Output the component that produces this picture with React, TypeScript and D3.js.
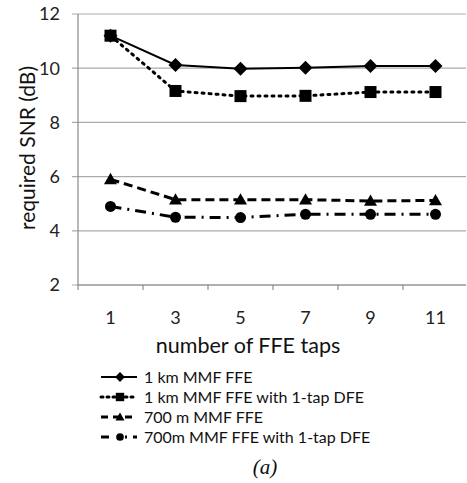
import React from "react";
import * as d3 from "d3";

const taps = ["1", "3", "5", "7", "9", "11"];
const yTicks = [2, 4, 6, 8, 10, 12];
const ffe1km = [11.2, 10.12, 9.98, 10.02, 10.08, 10.08];
const dfe1km = [11.2, 9.16, 8.97, 8.98, 9.12, 9.12];
const ffe700 = [5.9, 5.15, 5.15, 5.15, 5.1, 5.12];
const dfe700 = [4.9, 4.5, 4.49, 4.61, 4.61, 4.61];
const seriesNames = [
  "1 km MMF FFE",
  "1 km MMF FFE with 1-tap DFE",
  "700 m MMF FFE",
  "700m MMF FFE with 1-tap DFE",
];

const W = 467, H = 483;
const left = 78, right = 468, top = 14, bottom = 285;
const font = "Lato, 'Open Sans', sans-serif";

const styles = [
  { dash: "none", width: 2, marker: "diamond", legDash: "none" },
  { dash: "2 5", width: 3, marker: "square", legDash: "2 4" },
  { dash: "9 5", width: 3, marker: "triangle", legDash: "7 5" },
  { dash: "11 6 2 6", width: 3, marker: "circle", legDash: "8 16 2 6" },
];

function Marker({ type, x, y, s = 1 }: { type: string; x: number; y: number; s?: number }) {
  if (type === "diamond") {
    const r = 7 * s;
    return <path d={`M${x},${y - r}L${x + r},${y}L${x},${y + r}L${x - r},${y}Z`} fill="#000" />;
  }
  if (type === "square") {
    const h = 6 * s;
    return <rect x={x - h} y={y - h} width={2 * h} height={2 * h} fill="#000" />;
  }
  if (type === "triangle") {
    const h = 6.5 * s;
    return <path d={`M${x},${y - h}L${x + h},${y + h * 0.75}L${x - h},${y + h * 0.75}Z`} fill="#000" />;
  }
  return <circle cx={x} cy={y} r={5.5 * s} fill="#000" />;
}

export default function App() {
  const x = d3.scaleBand<string>().domain(taps).range([left, right]);
  const y = d3.scaleLinear().domain([2, 12]).range([bottom, top]);
  const cx = (t: string) => (x(t) as number) + x.bandwidth() / 2;
  const all = [ffe1km, dfe1km, ffe700, dfe700];
  const line = d3
    .line<number>()
    .x((_, i) => cx(taps[i]))
    .y((d) => y(d));
  const boundaries = taps.map((t) => x(t) as number).slice(1);

  return (
    <svg width={W} height={H} style={{ position: "absolute", left: 0, top: 0, background: "#fff" }}>
      {yTicks.map((t) => (
        <g key={t}>
          <line x1={72} x2={466} y1={y(t)} y2={y(t)} stroke="#ababab" strokeWidth={1.2} />
          <text x={60} y={y(t)} dy="0.36em" textAnchor="end" fontFamily={font} fontSize={18} fill="#222">
            {t}
          </text>
        </g>
      ))}
      <line x1={left} x2={left} y1={top} y2={bottom} stroke="#8a8a8a" strokeWidth={1.2} />
      <line x1={left} x2={466} y1={bottom} y2={bottom} stroke="#8a8a8a" strokeWidth={1.2} />
      {boundaries.map((b, i) => (
        <line key={i} x1={b} x2={b} y1={bottom} y2={bottom + 5} stroke="#8a8a8a" strokeWidth={1.2} />
      ))}
      <line x1={left} x2={left} y1={bottom} y2={bottom + 5} stroke="#8a8a8a" strokeWidth={1.2} />
      {taps.map((t) => (
        <text key={t} x={cx(t)} y={318} textAnchor="middle" dy="0.36em" fontFamily={font} fontSize={18} fill="#222">
          {t}
        </text>
      ))}
      <text x={248} y={345} textAnchor="middle" dy="0.36em" fontFamily={font} fontSize={21.5} fill="#111">
        number of FFE taps
      </text>
      <text
        transform={`translate(27,148) rotate(-90)`}
        textAnchor="middle"
        dy="0.36em"
        fontFamily={font}
        fontSize={21}
        fill="#111"
      >
        required SNR (dB)
      </text>
      {all.map((s, k) => (
        <g key={k}>
          <path
            d={line(s) as string}
            fill="none"
            stroke="#000"
            strokeWidth={styles[k].width}
            strokeDasharray={styles[k].dash}
            strokeLinecap={k === 1 ? "round" : "butt"}
          />
          {s.map((v, i) => (
            <Marker key={i} type={styles[k].marker} x={cx(taps[i])} y={y(v)} />
          ))}
        </g>
      ))}
      {seriesNames.map((n, k) => {
        const ly = 377 + k * 20;
        return (
          <g key={n}>
            <line
              x1={101}
              x2={137}
              y1={ly}
              y2={ly}
              stroke="#000"
              strokeWidth={styles[k].width}
              strokeDasharray={styles[k].legDash}
              strokeLinecap={k === 1 ? "round" : "butt"}
            />
            <Marker type={styles[k].marker} x={120} y={ly} s={0.7} />
            <text x={144} y={ly} dy="0.36em" fontFamily={font} fontSize={16} fill="#111">
              {n}
            </text>
          </g>
        );
      })}
      <text x={265} y={466} textAnchor="middle" dy="0.36em" fontFamily="'Liberation Serif', serif" fontStyle="italic" fontSize={21} fill="#111">
        (a)
      </text>
    </svg>
  );
}
